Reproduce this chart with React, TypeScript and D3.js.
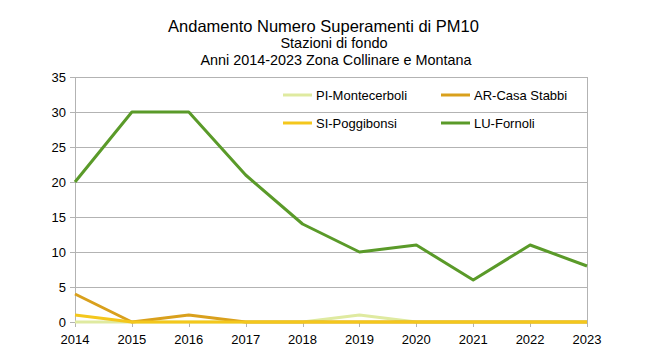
import React, { useEffect, useRef } from "react";
import * as d3 from "d3";

// Data
const years = [2014, 2015, 2016, 2017, 2018, 2019, 2020, 2021, 2022, 2023];
const piMontecerboli = [0, 0, 0, 0, 0, 1, 0, 0, 0, 0];
const arCasaStabbi = [4, 0, 1, 0, 0, 0, 0, 0, 0, 0];
const siPoggibonsi = [1, 0, 0, 0, 0, 0, 0, 0, 0, 0];
const luFornoli = [20, 30, 30, 21, 14, 10, 11, 6, 11, 8];
const yTicks = [0, 5, 10, 15, 20, 25, 30, 35];

const seriesNames = ["PI-Montecerboli", "AR-Casa Stabbi", "SI-Poggibonsi", "LU-Fornoli"];
const seriesValues = [piMontecerboli, arCasaStabbi, siPoggibonsi, luFornoli];
const seriesColors = ["#dfeaa0", "#d9a01c", "#f4c71c", "#5a9a29"];

const W = 647;
const H = 354;

export default function App() {
  const svgRef = useRef<SVGSVGElement>(null);

  useEffect(() => {
    if (!svgRef.current) return;
    const svg = d3.select(svgRef.current);
    svg.selectAll("*").remove();

    const font = "'Liberation Sans', Arial, sans-serif";
    const left = 75;
    const right = 587;
    const top = 77;
    const bottom = 322;

    const x = d3.scaleLinear().domain([2014, 2023]).range([left, right]);
    const y = d3.scaleLinear().domain([0, 35]).range([bottom, top]);

    svg.append("rect").attr("width", W).attr("height", H).attr("fill", "#fff");

    // Titles
    const titles = [
      { t: "Andamento Numero Superamenti di PM10", x: 323.5, y: 32, s: 16.5 },
      { t: "Stazioni di fondo", x: 334, y: 48, s: 14.5 },
      { t: "Anni 2014-2023 Zona Collinare e Montana", x: 336, y: 65, s: 14.4 },
    ];
    titles.forEach((d) =>
      svg
        .append("text")
        .attr("x", d.x)
        .attr("y", d.y)
        .attr("text-anchor", "middle")
        .attr("font-family", font)
        .attr("font-size", d.s)
        .attr("fill", "#000")
        .text(d.t)
    );

    // Horizontal grid + y labels
    yTicks.forEach((v) => {
      svg
        .append("line")
        .attr("x1", left - 5)
        .attr("x2", right)
        .attr("y1", Math.round(y(v)) + 0.5)
        .attr("y2", Math.round(y(v)) + 0.5)
        .attr("stroke", "#b3b3b3")
        .attr("stroke-width", 1);
      svg
        .append("text")
        .attr("x", left - 9)
        .attr("y", y(v) + 5)
        .attr("text-anchor", "end")
        .attr("font-family", font)
        .attr("font-size", 13)
        .attr("fill", "#000")
        .text(v);
    });

    // Frame lines
    [left, right].forEach((px) =>
      svg
        .append("line")
        .attr("x1", px + 0.5)
        .attr("x2", px + 0.5)
        .attr("y1", top)
        .attr("y2", bottom + 5)
        .attr("stroke", "#b3b3b3")
    );

    // X ticks + labels
    years.forEach((yr) => {
      svg
        .append("line")
        .attr("x1", Math.round(x(yr)) + 0.5)
        .attr("x2", Math.round(x(yr)) + 0.5)
        .attr("y1", bottom)
        .attr("y2", bottom + 5)
        .attr("stroke", "#b3b3b3");
      svg
        .append("text")
        .attr("x", x(yr))
        .attr("y", bottom + 22)
        .attr("text-anchor", "middle")
        .attr("font-family", font)
        .attr("font-size", 13)
        .attr("fill", "#000")
        .text(yr);
    });

    // Series lines
    const line = d3
      .line<number>()
      .x((_, i) => x(years[i]))
      .y((d) => y(d));

    seriesValues.forEach((vals, i) => {
      svg
        .append("path")
        .attr("d", line(vals) as string)
        .attr("fill", "none")
        .attr("stroke", seriesColors[i])
        .attr("stroke-width", 3)
        .attr("stroke-linejoin", "round");
    });

    // Legend
    const legendPos = [
      { x: 283, y: 95 },
      { x: 441, y: 95 },
      { x: 283, y: 123 },
      { x: 441, y: 123 },
    ];
    seriesNames.forEach((name, i) => {
      const p = legendPos[i];
      svg
        .append("line")
        .attr("x1", p.x)
        .attr("x2", p.x + 29)
        .attr("y1", p.y)
        .attr("y2", p.y)
        .attr("stroke", seriesColors[i])
        .attr("stroke-width", 3);
      svg
        .append("text")
        .attr("x", p.x + 33)
        .attr("y", p.y + 5)
        .attr("font-family", font)
        .attr("font-size", 13)
        .attr("fill", "#000")
        .text(name);
    });
  }, []);

  return (
    <svg
      ref={svgRef}
      width={W}
      height={H}
      style={{ position: "absolute", left: 0, top: 0, display: "block" }}
    />
  );
}
